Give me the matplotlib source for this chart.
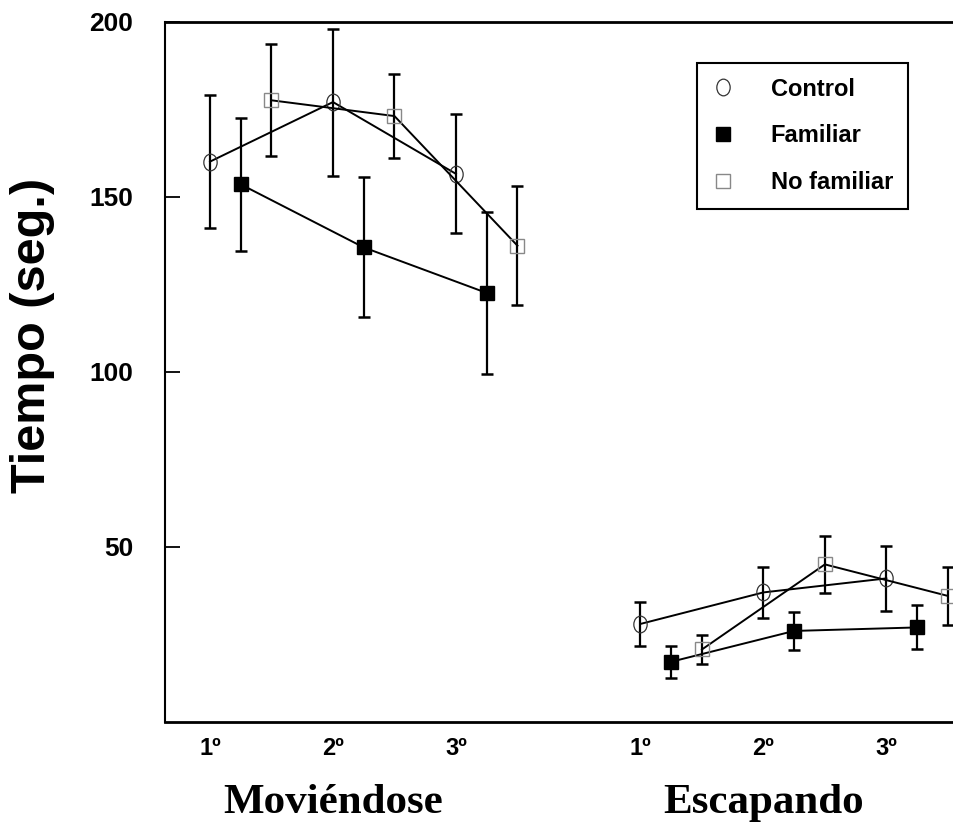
import numpy as np
import matplotlib.pyplot as plt
from matplotlib.path import Path
from matplotlib.lines import Line2D

## data
sesiones = ['1º', '2º', '3º']
grupos = ['Moviéndose', 'Escapando']

control_mov = [160, 177, 156.5]
control_mov_err = [19, 21, 17]
familiar_mov = [153.5, 135.5, 122.5]
familiar_mov_err = [19, 20, 23]
nofam_mov = [177.5, 173, 136]
nofam_mov_err = [16, 12, 17]

control_esc = [28, 37, 41]
control_esc_err = [6.3, 7.3, 9.2]
familiar_esc = [17.2, 26, 27]
familiar_esc_err = [4.5, 5.5, 6.3]
nofam_esc = [20.7, 45, 36]
nofam_esc_err = [4, 8.2, 8.3]


def main():
    # tall ellipse marker for Control
    circ = Path.unit_circle()
    ellipse = Path(circ.vertices * np.array([0.8, 1.0]), circ.codes)

    estilos = {
        'Control': dict(marker=ellipse, ms=12, mfc='none', mec='#333333', mew=0.9),
        'Familiar': dict(marker='s', ms=9.5, mfc='black', mec='black', mew=1),
        'No familiar': dict(marker='s', ms=9.5, mfc='none', mec='#888888', mew=1),
    }
    offsets = {'Control': 0.0, 'Familiar': 0.25, 'No familiar': 0.5}
    datos = {
        'Control': [(control_mov, control_mov_err), (control_esc, control_esc_err)],
        'Familiar': [(familiar_mov, familiar_mov_err), (familiar_esc, familiar_esc_err)],
        'No familiar': [(nofam_mov, nofam_mov_err), (nofam_esc, nofam_esc_err)],
    }
    inicio = [1.0, 4.5]

    fig = plt.figure(figsize=(9.54, 8.27), dpi=100)
    ax = fig.add_axes([165/954, 1-722/827, 1-165/954, (722-21.5)/827])

    for nombre, series in datos.items():
        for g, (vals, errs) in enumerate(series):
            x = inicio[g] + np.arange(len(vals)) + offsets[nombre]
            ax.errorbar(x, vals, yerr=errs, fmt='none', ecolor='black',
                        elinewidth=1.6, capsize=4.5, capthick=1.8, zorder=2,
                        clip_on=False)
            ax.plot(x, vals, '-', color='black', lw=1.4, zorder=3,
                    clip_on=False, **estilos[nombre])

    ax.set_xlim(0.634, 7.05)
    ax.set_ylim(0, 200)
    ax.set_yticks([50, 100, 150, 200])
    ax.set_yticklabels(['50', '100', '150', '200'], fontsize=19,
                       fontweight='bold', family='Liberation Sans')
    xt = np.concatenate([inicio[0] + np.arange(3), inicio[1] + np.arange(3)])
    ax.set_xticks(xt)
    ax.set_xticklabels(sesiones * 2, fontsize=17, fontweight='bold',
                       family='Liberation Sans')
    ax.tick_params(axis='y', direction='in', length=11, width=1.3, pad=23)
    ax.tick_params(axis='x', length=0, pad=11)

    ax.spines['right'].set_visible(False)
    ax.spines['top'].set_linewidth(2)
    ax.spines['left'].set_linewidth(1.5)
    ax.spines['bottom'].set_linewidth(2)

    ax.set_ylabel('Tiempo (seg.)', fontsize=35, fontweight='bold',
                  family='Liberation Sans')
    ax.yaxis.label.set_verticalalignment('center')
    ax.yaxis.set_label_coords((33-165)/789, (722-335)/700.5)

    trans = ax.get_xaxis_transform()
    for g, nombre in enumerate(grupos):
        ax.text(inicio[g] + 1, -0.116, nombre, transform=trans, ha='center',
                va='center', fontsize=31, fontweight='bold',
                family='Liberation Serif')

    handles = [Line2D([], [], linestyle='none', **estilos[n]) for n in datos]
    leg = ax.legend(handles, list(datos.keys()), loc='upper left',
                    bbox_to_anchor=(697/954, 1-63/827),
                    bbox_transform=fig.transFigure, frameon=True,
                    fancybox=False, edgecolor='black', framealpha=1,
                    prop=dict(family='Liberation Sans', weight='bold', size=17),
                    labelspacing=1.0, handlelength=1.0, handletextpad=1.5,
                    borderpad=0.62, borderaxespad=0)
    leg.get_frame().set_linewidth(1.5)

    fig.savefig('out.png', dpi=100)
    plt.close()


if __name__ == "__main__":
    main()
